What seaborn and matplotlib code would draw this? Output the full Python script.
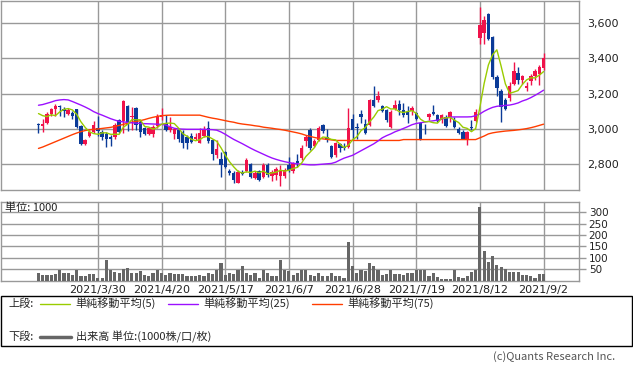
import numpy as np
import pandas as pd
import matplotlib
matplotlib.use("Agg")
import matplotlib.pyplot as plt
import seaborn as sns
from matplotlib.patches import Rectangle
from matplotlib.lines import Line2D
from matplotlib.ticker import FuncFormatter

# ---------------- data ----------------
opens = [3030, 3016, 3035, 3084, 3115, 3132, 3112, 3084, 3090, 3112,
         3015, 2915, 2960, 2984, 3008, 2980, 2971, 2952, 2956, 3053,
         3046, 3129, 3065, 3121, 3040, 3007, 2971, 2971, 3016, 3065,
         3035, 2993, 2971, 2993, 2984, 2952, 2960, 2944, 2922, 2960,
         3003, 2937, 2853, 2828, 2871, 2764, 2749, 2697, 2759, 2764,
         2802, 2721, 2762, 2731, 2796, 2734, 2740, 2734, 2734, 2796,
         2764, 2819, 2834, 2933, 2993, 2903, 2937, 3022, 2952, 2903,
         2852, 2914, 2900, 2900, 3059, 3012, 3084, 3027, 3022, 3162,
         3162, 3129, 3106, 3012, 3115, 3140, 3106, 3097, 3103, 3090,
         3031, 3008, 3068, 3097, 3078, 3050, 3068, 3068, 3053, 2997,
         2984, 2946, 3012, 3046, 3512, 3540, 3651, 3519, 3294, 3215,
         3162, 3177, 3253, 3317, 3275, 3234, 3273, 3298, 3309, 3343]
highs = [3035, 3055, 3097, 3121, 3140, 3138, 3125, 3121, 3099, 3115,
         3020, 2946, 2993, 3046, 3072, 2993, 2984, 2965, 3035, 3059,
         3166, 3134, 3125, 3125, 3050, 3012, 3012, 3022, 3087, 3119,
         3078, 3068, 3008, 3003, 2993, 2965, 2975, 2975, 3003, 3016,
         3046, 2946, 2937, 2871, 2877, 2772, 2764, 2768, 2768, 2834,
         2810, 2764, 2768, 2806, 2806, 2768, 2787, 2796, 2777, 2843,
         2815, 2858, 2909, 2965, 3003, 2946, 3016, 3030, 2997, 2909,
         2928, 2922, 2918, 3121, 3084, 3031, 3106, 3059, 3172, 3241,
         3215, 3133, 3115, 3106, 3166, 3166, 3144, 3129, 3129, 3097,
         3040, 3027, 3091, 3134, 3087, 3087, 3078, 3103, 3065, 3012,
         2993, 2990, 3053, 3115, 3692, 3636, 3655, 3525, 3303, 3223,
         3177, 3265, 3378, 3350, 3303, 3265, 3309, 3341, 3360, 3428]
lows = [2978, 2984, 3027, 3072, 3072, 3072, 3068, 3077, 3058, 3005,
        2910, 2910, 2952, 2978, 2960, 2937, 2900, 2905, 2941, 2978,
        2978, 2990, 2993, 2993, 2952, 2965, 2965, 2956, 3008, 3053,
        2990, 2984, 2941, 2928, 2890, 2885, 2918, 2937, 2918, 2952,
        2922, 2824, 2834, 2730, 2777, 2740, 2697, 2693, 2740, 2759,
        2721, 2715, 2708, 2721, 2731, 2708, 2712, 2680, 2721, 2759,
        2753, 2787, 2824, 2903, 2880, 2896, 2933, 2975, 2928, 2834,
        2843, 2871, 2880, 2890, 2937, 2946, 3031, 2971, 3016, 3125,
        3152, 3097, 3040, 3008, 3106, 3078, 3068, 3035, 3078, 3053,
        2937, 2971, 3050, 3078, 3040, 3035, 3012, 3040, 3003, 2971,
        2941, 2909, 2993, 3040, 3480, 3480, 3500, 3285, 3185, 3040,
        3106, 3158, 3247, 3256, 3256, 3215, 3247, 3275, 3247, 3334]
closes = [3020, 3027, 3087, 3110, 3132, 3126, 3100, 3108, 3071, 3009,
          2915, 2940, 2984, 3022, 2988, 2956, 2941, 2941, 3025, 2984,
          3159, 3022, 3072, 3022, 2984, 2971, 3003, 3012, 3072, 3078,
          2993, 3012, 2997, 2946, 2918, 2922, 2928, 2952, 2978, 2997,
          2933, 2858, 2885, 2796, 2787, 2749, 2712, 2759, 2746, 2824,
          2727, 2753, 2712, 2796, 2740, 2759, 2772, 2768, 2768, 2768,
          2806, 2806, 2890, 2952, 2890, 2933, 3007, 2990, 2937, 2839,
          2918, 2890, 2890, 3003, 2993, 3003, 3065, 2978, 3162, 3129,
          3185, 3103, 3050, 3097, 3134, 3106, 3078, 3078, 3121, 3059,
          2941, 3003, 3087, 3087, 3046, 3078, 3016, 3097, 3012, 2978,
          2946, 2984, 3003, 3097, 3585, 3617, 3506, 3294, 3234, 3125,
          3115, 3241, 3328, 3275, 3298, 3245, 3298, 3328, 3350, 3400]
volume = [35, 25, 22, 22, 30, 45, 33, 35, 25, 45, 18, 18, 30, 30, 13, 12, 92, 45, 38, 35,
          52, 55, 35, 33, 40, 25, 18, 35, 45, 32, 25, 33, 30, 28, 30, 20,
          21, 21, 25, 18, 35, 29, 44, 79, 25, 35, 29, 44, 62, 35, 25, 35, 10, 44, 35, 18,
          21, 91, 44, 40, 25, 32, 44, 44, 25, 21, 35, 21, 21, 35, 18, 21, 10, 167, 65, 35,
          47, 40, 79, 62, 44, 25, 29, 44, 29, 29, 25, 35, 35, 44, 44, 44, 21, 33,
          15, 8, 8, 8, 44, 16, 12, 19, 36, 44,
          325, 128, 81, 106, 66, 59, 50, 36, 36, 36, 23, 23, 19, 12, 27, 27]
# 5-day average as read at the first four sessions (earlier closes are not on the chart)
ma5_head = [3087, 3075, 3070, 3080]
ma25 = [3134, 3138, 3145, 3152, 3160, 3164, 3166, 3164, 3155, 3145,
        3135, 3124, 3112, 3098, 3087, 3078, 3068, 3058, 3050, 3043,
        3040, 3037, 3035, 3033, 3031, 3030, 3029, 3028, 3027, 3026,
        3022, 3012, 3004, 3000, 2999, 2998, 2998, 2998, 2998, 2998,
        2997, 2996, 2993, 2983, 2970, 2955, 2941, 2929, 2917, 2904,
        2891, 2879, 2868, 2857, 2846, 2836, 2828, 2821, 2815, 2810,
        2806, 2803, 2801, 2799, 2797, 2797, 2799, 2801, 2803, 2805,
        2812, 2824, 2835, 2843, 2851, 2864, 2877, 2890, 2903, 2916,
        2932, 2950, 2962, 2972, 2984, 2993, 3003, 3013, 3024, 3031,
        3035, 3039, 3043, 3046, 3050, 3056, 3062, 3067, 3068, 3068,
        3068, 3068, 3069, 3075, 3085, 3100, 3112, 3122, 3128, 3131,
        3133, 3135, 3140, 3147, 3158, 3166, 3177, 3190, 3204, 3219]
ma75 = [2890, 2898, 2908, 2918, 2928, 2938, 2948, 2958, 2968, 2977,
        2985, 2991, 2995, 2998, 3000, 3003, 3006, 3009, 3014, 3020,
        3026, 3032, 3038, 3042, 3047, 3053, 3060, 3066, 3071, 3075,
        3077, 3078, 3078, 3078, 3078, 3078, 3078, 3078, 3078, 3072,
        3066, 3061, 3057, 3052, 3047, 3042, 3038, 3032, 3028, 3025,
        3022, 3018, 3015, 3010, 3007, 3004, 3000, 2997, 2993, 2988,
        2983, 2978, 2972, 2964, 2958, 2952, 2947, 2944, 2941, 2938,
        2935, 2935, 2935, 2935, 2935, 2935, 2935, 2935, 2935, 2935,
        2935, 2935, 2935, 2935, 2935, 2935, 2940, 2940, 2940, 2940,
        2940, 2940, 2940, 2940, 2940, 2940, 2940, 2940, 2940, 2940,
        2940, 2940, 2940, 2940, 2950, 2960, 2972, 2978, 2982, 2985,
        2988, 2990, 2992, 2995, 2998, 3002, 3007, 3013, 3020, 3027]
date_ticks = [14, 29, 44, 59, 74, 89, 104, 119]
date_labels = ["2021/3/30", "2021/4/20", "2021/5/17", "2021/6/7",
               "2021/6/28", "2021/7/19", "2021/8/12", "2021/9/2"]
price_ticks = [2800, 3000, 3200, 3400, 3600]
vol_ticks = [50, 100, 150, 200, 250, 300]

# ---------------- styling ----------------
RED = "#f0124a"
BLUE = "#0b3b98"
C5 = "#99cc00"
C25 = "#9b10ff"
C75 = "#ff3d00"
GRID = "#999999"
VOLC = "#666666"

sns.set_style("white")
plt.rcParams['font.family'] = ['DejaVu Sans', 'Noto Sans CJK JP']
JP = ['Noto Sans CJK JP', 'DejaVu Sans']

df = pd.DataFrame(dict(idx=np.arange(len(closes)), open=opens, high=highs,
                       low=lows, close=closes, vol=volume, ma25=ma25, ma75=ma75))
ma5 = df["close"].rolling(5).mean()
ma5.iloc[:len(ma5_head)] = ma5_head
df["ma5"] = ma5

W, H = 633, 373
fig = plt.figure(figsize=(W / 100, H / 100), dpi=100)


def rect(l, t, r, b):
    return [l / W, 1 - b / H, (r - l) / W, (b - t) / H]


ax = fig.add_axes(rect(0.5, 0.5, 579, 190))
axv = fig.add_axes(rect(0.5, 201.5, 579, 280.5), sharex=ax)

# candles
up = df["close"] >= df["open"]
cols = np.where(up, RED, BLUE)
ax.vlines(df["idx"], df["low"], df["high"], colors=cols, lw=1, zorder=2)
body = (df["close"] - df["open"]).abs().clip(lower=5)
ax.bar(df["idx"], body, bottom=np.minimum(df["open"], df["close"]),
       width=0.8, color=cols, lw=0, zorder=3)

sns.lineplot(data=df, x="idx", y="ma75", ax=ax, color=C75, lw=1, zorder=4)
sns.lineplot(data=df, x="idx", y="ma25", ax=ax, color=C25, lw=1, zorder=4)
sns.lineplot(data=df, x="idx", y="ma5", ax=ax, color=C5, lw=1, zorder=5)

ax.set_xlim(-8.95, 127.35)
ax.set_ylim(2655, 3726)
ax.set_xticks(date_ticks)
ax.set_yticks(price_ticks)
ax.yaxis.tick_right()
ax.yaxis.set_major_formatter(FuncFormatter(lambda v, p: f"{int(v):,}"))
ax.tick_params(axis="x", labelbottom=False, length=0)
ax.tick_params(axis="y", length=0, pad=6, labelsize=8, labelcolor="#222222")
ax.grid(True, color=GRID, lw=1)
ax.set_axisbelow(True)
ax.set_xlabel("")
ax.set_ylabel("")

# volume
axv.bar(df["idx"], df["vol"], width=0.75, color=VOLC, lw=0, zorder=3)
axv.set_ylim(0, 347)
axv.set_yticks(vol_ticks)
axv.yaxis.tick_right()
axv.set_xticks(date_ticks)
axv.set_xticklabels(date_labels)
axv.tick_params(axis="x", length=0, pad=3, labelsize=8, labelcolor="#222222")
axv.tick_params(axis="y", length=5, width=1, color=GRID, pad=2,
                labelsize=7.5, labelcolor="#222222")
axv.grid(True, color=GRID, lw=1)
axv.set_axisbelow(True)
axv.set_xlabel("")
axv.set_ylabel("")

for a in (ax, axv):
    for s in a.spines.values():
        s.set_color(GRID)
        s.set_linewidth(1)

fig.text(5 / W, 1 - 208 / H, "単位: 1000", fontsize=8, va="center",
         ha="left", family=JP, color="#222222")

# legend box
fig.add_artist(Rectangle((0.5 / W, 1 - 346 / H), 631.5 / W, 50 / H,
                         transform=fig.transFigure, fill=False,
                         ec="black", lw=1))


def fy(y):
    return 1 - y / H


def fx(x):
    return x / W


r1, r2 = 303.5, 337
fig.text(fx(8), fy(r1), "上段:", fontsize=8, va="center", family=JP)
fig.text(fx(8), fy(r2), "下段:", fontsize=8, va="center", family=JP)
for x0, c, lab in [(40, C5, "単純移動平均(5)"), (168, C25, "単純移動平均(25)"),
                   (312, C75, "単純移動平均(75)")]:
    fig.add_artist(Line2D([fx(x0), fx(x0 + 30)], [fy(r1), fy(r1)],
                          transform=fig.transFigure, color=c, lw=1))
    fig.text(fx(x0 + 35), fy(r1), lab, fontsize=8, va="center", family=JP)
fig.add_artist(Line2D([fx(40), fx(71)], [fy(r2), fy(r2)],
                      transform=fig.transFigure, color=VOLC, lw=2.5))
fig.text(fx(76), fy(r2), "出来高 単位:(1000株/口/枚)", fontsize=8,
         va="center", family=JP)

fig.text(fx(615), fy(357), "(c)Quants Research Inc.", fontsize=8,
         ha="right", va="center", color="#555555", family=JP)

fig.savefig("out.png", dpi=100)
